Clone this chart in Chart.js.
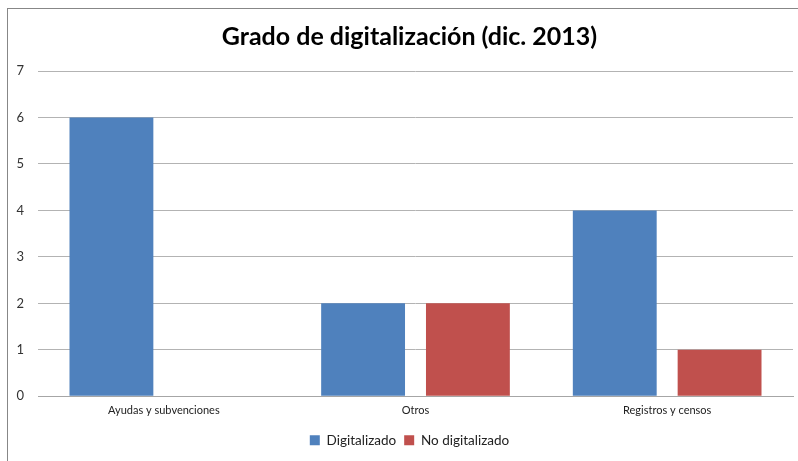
<!DOCTYPE html>
<html><head><meta charset="utf-8">
<script src="https://cdn.jsdelivr.net/npm/chart.js@4"></script>
<style>
html,body{margin:0;padding:0;background:#fff;}
#wrap{position:relative;width:798px;height:461px;overflow:hidden;}
#frame{position:absolute;left:7px;top:8px;width:800px;height:470px;border:1px solid #878787;box-sizing:border-box;}
canvas{position:absolute;left:0;top:0;}
</style></head>
<body><div id="wrap"><div id="frame"></div><canvas id="c" width="798" height="461"></canvas></div>
<script>
const categories = ["Ayudas y subvenciones", "Otros", "Registros y censos"];
const digitalizado = [6, 2, 4];
const noDigitalizado = [0, 2, 1];
const yTicks = [0, 1, 2, 3, 4, 5, 6, 7];
const titleText = "Grado de digitalización (dic. 2013)";

const shiftPlugin = {
  id: 'shiftBoxes',
  afterLayout(chart) {
    if (chart.titleBlock) { chart.titleBlock.left += 8; chart.titleBlock.right += 8; }
    if (chart.legend) { chart.legend.left += 8; chart.legend.right += 8;
      (chart.legend.legendHitBoxes || []).forEach(h => { h.left += 8; }); }
  }
};

new Chart(document.getElementById('c'), {
  type: 'bar',
  data: {
    labels: categories,
    datasets: [
      {label: 'Digitalizado', data: digitalizado, backgroundColor: '#4f81bd', categoryPercentage: 0.833, barPercentage: 0.8},
      {label: 'No digitalizado', data: noDigitalizado, backgroundColor: '#c0504d', categoryPercentage: 0.833, barPercentage: 0.8}
    ]
  },
  plugins: [shiftPlugin],
  options: {
    responsive: false,
    animation: false,
    layout: {padding: {left: 10, right: 5, top: 0, bottom: 4}},
    plugins: {
      title: {display: true, text: titleText, color: '#000', font: {family: 'Lato', size: 25, weight: 'bold'}, padding: {top: 22, bottom: 19}},
      legend: {position: 'bottom', labels: {boxWidth: 10, boxHeight: 10, color: '#222', font: {family: 'Lato', size: 13.5}, padding: 8}},
      tooltip: {enabled: false}
    },
    scales: {
      x: {
        grid: {display: false, drawTicks: false},
        border: {color: '#a6a6a6'},
        ticks: {color: '#222', font: {family: 'Lato', size: 11}, padding: 8}
      },
      y: {
        min: 0, max: 7,
        afterBuildTicks: s => { s.ticks = yTicks.map(v => ({value: v})); },
        afterFit: s => { s.width = 28; },
        grid: {color: '#b3b3b3', drawTicks: false},
        border: {display: false},
        ticks: {color: '#333', font: {family: 'Lato', size: 13}, padding: 14}
      }
    }
  }
});
</script></body></html>
